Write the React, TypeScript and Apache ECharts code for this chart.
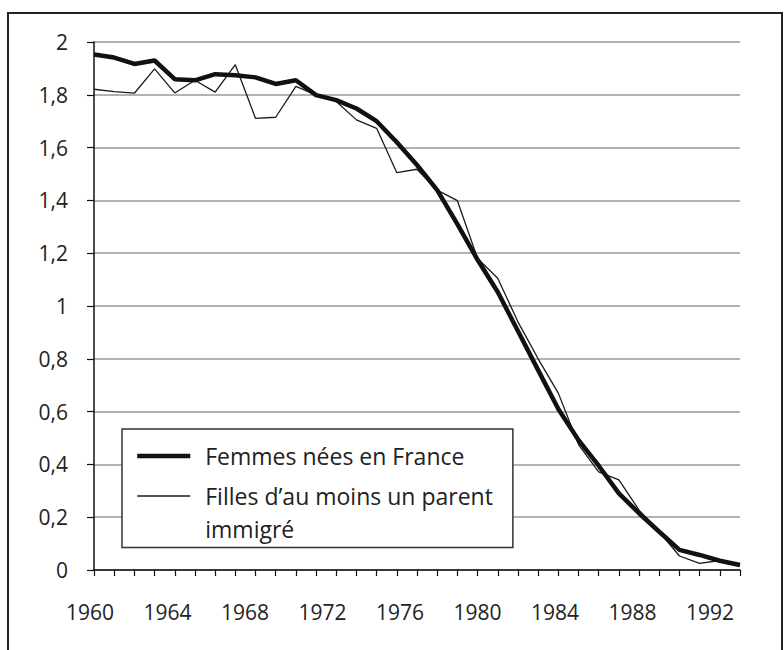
import React, { useEffect, useRef } from 'react';
import * as echarts from 'echarts';

const years = [
  '1960', '1961', '1962', '1963', '1964', '1965', '1966', '1967', '1968', '1969',
  '1970', '1971', '1972', '1973', '1974', '1975', '1976', '1977', '1978', '1979',
  '1980', '1981', '1982', '1983', '1984', '1985', '1986', '1987', '1988', '1989',
  '1990', '1991', '1992',
];

const femmesFrance = [
  1.953, 1.941, 1.917, 1.93, 1.859, 1.855, 1.878, 1.874, 1.866, 1.841,
  1.855, 1.799, 1.78, 1.748, 1.7, 1.62, 1.534, 1.439, 1.31, 1.175,
  1.053, 0.905, 0.757, 0.61, 0.492, 0.395, 0.29, 0.215, 0.145, 0.076,
  0.057, 0.035, 0.019,
];

const fillesImmigres = [
  1.821, 1.812, 1.806, 1.898, 1.807, 1.855, 1.81, 1.914, 1.711, 1.715,
  1.832, 1.8, 1.775, 1.705, 1.673, 1.505, 1.518, 1.439, 1.399, 1.18,
  1.105, 0.94, 0.8, 0.67, 0.475, 0.372, 0.341, 0.227, 0.145, 0.053,
  0.025, 0.036, 0.019,
];

const nameFrance = 'Femmes nées en France';
const nameImmigres = "Filles d\u2019au moins un parent\nimmigré";

const FONT = '"Open Sans", "Noto Sans", sans-serif';

export default function App() {
  const ref = useRef<HTMLDivElement>(null);

  useEffect(() => {
    document.body.style.margin = '0';
    if (!ref.current) return;
    const chart = echarts.init(ref.current, null, { renderer: 'svg' });
    chart.setOption({
      animation: false,
      backgroundColor: '#ffffff',
      textStyle: { fontFamily: FONT },
      graphic: [
        {
          type: 'rect',
          z: -10,
          shape: { x: 8, y: 13, width: 774, height: 700 },
          style: { fill: 'none', stroke: '#222', lineWidth: 2 },
        },
      ],
      grid: [
        { left: 94, right: 44, top: 42, bottom: 80 },
        { left: 90, right: 74, top: 42, bottom: 80 },
      ],
      legend: {
        left: 122,
        top: 429,
        orient: 'vertical',
        data: [nameFrance, nameImmigres],
        itemWidth: 53,
        itemHeight: 14,
        itemGap: -26,
        padding: [10.5, 20, 2, 13],
        backgroundColor: '#ffffff',
        borderColor: '#333',
        borderWidth: 1.5,
        borderRadius: 0,
        lineStyle: { width: 'inherit' },
        itemStyle: { opacity: 0 },
        formatter: (n: string) => (n === nameImmigres ? '\n' + n : n),
        textStyle: {
          fontFamily: FONT,
          fontSize: 23,
          color: '#222',
          lineHeight: 33,
          padding: [0, 0, 0, 10],
        },
        z: 10,
      },
      xAxis: [
        {
          type: 'category',
          gridIndex: 0,
          data: years,
          boundaryGap: false,
          axisLine: { show: true, lineStyle: { color: '#111', width: 1.5 } },
          axisTick: { show: true, interval: 0, length: 6, lineStyle: { color: '#111', width: 1.2 } },
          axisLabel: { show: false },
          splitLine: { show: false },
        },
        {
          type: 'category',
          gridIndex: 1,
          data: years,
          boundaryGap: false,
          axisLine: { show: false },
          axisTick: { show: false },
          splitLine: { show: false },
          axisLabel: {
            interval: 3,
            margin: 31,
            fontSize: 21,
            color: '#222',
            fontFamily: FONT,
          },
        },
      ],
      yAxis: [
        {
          type: 'value',
          gridIndex: 0,
          min: 0,
          max: 2,
          interval: 0.2,
          axisLine: { show: true, lineStyle: { color: '#111', width: 1.5 } },
          axisTick: { show: true, length: 7, lineStyle: { color: '#111', width: 1.2 } },
          splitLine: { show: true, lineStyle: { color: '#999', width: 1.5 } },
          axisLabel: {
            margin: 26,
            fontSize: 21,
            color: '#222',
            fontFamily: FONT,
            formatter: (v: number) => String(+v.toFixed(1)).replace('.', ','),
          },
        },
        {
          type: 'value',
          gridIndex: 1,
          min: 0,
          max: 1,
          show: false,
        },
      ],
      series: [
        {
          name: nameImmigres,
          type: 'line',
          xAxisIndex: 0,
          yAxisIndex: 0,
          data: fillesImmigres,
          symbol: 'none',
          showSymbol: false,
          lineStyle: { color: '#1a1a1a', width: 1.3 },
          itemStyle: { color: '#1a1a1a' },
          z: 3,
        },
        {
          name: nameFrance,
          type: 'line',
          xAxisIndex: 0,
          yAxisIndex: 0,
          data: femmesFrance,
          symbol: 'none',
          showSymbol: false,
          lineStyle: { color: '#111', width: 4.5 },
          itemStyle: { color: '#111' },
          z: 4,
        },
      ],
    });
    return () => chart.dispose();
  }, []);

  return <div ref={ref} style={{ width: 784, height: 650 }} />;
}
